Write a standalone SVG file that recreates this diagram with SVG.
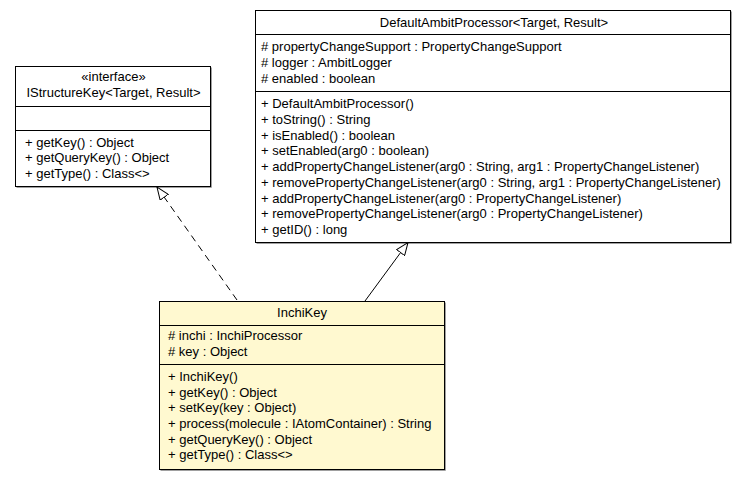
<svg xmlns="http://www.w3.org/2000/svg" width="747" height="480" viewBox="0 0 747 480">
<style>
  text { font-family: "Liberation Sans", Arial, sans-serif; font-size: 13px; fill: #000; }
  .c { text-anchor: middle; }
  .box { stroke: #000; stroke-width: 1; }
  .shadow { fill: none; stroke: #a0a0a0; stroke-width: 1; }
  .div { stroke: #000; stroke-width: 1; }
  .edge { fill: none; stroke: #000; stroke-width: 1; }
  .dash { stroke-dasharray: 7,5; }
</style>
<defs>
  <marker id="tri" viewBox="0 0 13 11" refX="13" refY="5.5" markerWidth="13" markerHeight="11" markerUnits="userSpaceOnUse" orient="auto">
    <path d="M0.5,0.5 L13,5.5 L0.5,10.5 Z" fill="#fff" stroke="#000" stroke-width="1" stroke-dasharray="none"/>
  </marker>
</defs>
<rect width="747" height="480" fill="#fff"/>

<g id="IStructureKey">
  <path class="shadow" d="M211.5,67.5 V187.5 H16.5"/>
  <rect class="box" x="15.5" y="66.5" width="195" height="120" fill="#fff"/>
  <line class="div" x1="15.5" y1="106.5" x2="210.5" y2="106.5"/>
  <line class="div" x1="15.5" y1="130.5" x2="210.5" y2="130.5"/>
  <text class="c" x="113.5" y="80.5">«interface»</text>
  <text class="c" x="113.5" y="97">IStructureKey&lt;Target, Result&gt;</text>
  <text x="25" y="146.5">+ getKey() : Object</text>
  <text x="25" y="162.2">+ getQueryKey() : Object</text>
  <text x="25" y="177.9">+ getType() : Class&lt;&gt;</text>
</g>

<g id="DefaultAmbitProcessor">
  <path class="shadow" d="M731.5,11.5 V243.5 H256.5"/>
  <rect class="box" x="255.5" y="10.5" width="475" height="232" fill="#fff"/>
  <line class="div" x1="255.5" y1="34.5" x2="730.5" y2="34.5"/>
  <line class="div" x1="255.5" y1="91.5" x2="730.5" y2="91.5"/>
  <text class="c" x="494" y="27">DefaultAmbitProcessor&lt;Target, Result&gt;</text>
  <text x="261" y="51">#  propertyChangeSupport : PropertyChangeSupport</text>
  <text x="261" y="67">#  logger : AmbitLogger</text>
  <text x="261" y="83">#  enabled : boolean</text>
  <text x="261" y="108">+ DefaultAmbitProcessor()</text>
  <text x="261" y="123.75">+ toString() : String</text>
  <text x="261" y="139.5">+ isEnabled() : boolean</text>
  <text x="261" y="155.25">+ setEnabled(arg0 : boolean)</text>
  <text x="261" y="171">+ addPropertyChangeListener(arg0 : String, arg1 : PropertyChangeListener)</text>
  <text x="261" y="186.75">+ removePropertyChangeListener(arg0 : String, arg1 : PropertyChangeListener)</text>
  <text x="261" y="202.5">+ addPropertyChangeListener(arg0 : PropertyChangeListener)</text>
  <text x="261" y="218.25">+ removePropertyChangeListener(arg0 : PropertyChangeListener)</text>
  <text x="261" y="234">+ getID() : long</text>
</g>

<g id="InchiKey">
  <path class="shadow" d="M445.5,302.5 V470.5 H160.5"/>
  <rect class="box" x="159.5" y="301.5" width="285" height="168" fill="#fff9d0"/>
  <line class="div" x1="159.5" y1="325.5" x2="444.5" y2="325.5"/>
  <line class="div" x1="159.5" y1="364.5" x2="444.5" y2="364.5"/>
  <text class="c" x="302" y="316.5">InchiKey</text>
  <text x="168" y="339.5">#  inchi : InchiProcessor</text>
  <text x="168" y="355.5">#  key : Object</text>
  <text x="168" y="381">+ InchiKey()</text>
  <text x="168" y="396.7">+ getKey() : Object</text>
  <text x="168" y="412.3">+ setKey(key : Object)</text>
  <text x="168" y="428">+ process(molecule : IAtomContainer) : String</text>
  <text x="168" y="443.6">+ getQueryKey() : Object</text>
  <text x="168" y="459.3">+ getType() : Class&lt;&gt;</text>
</g>

<g id="connectors">
  <path class="edge dash" d="M237,300 L157,187" marker-end="url(#tri)"/>
  <path class="edge" d="M365,301 L408,242.5" marker-end="url(#tri)"/>
</g>
</svg>
